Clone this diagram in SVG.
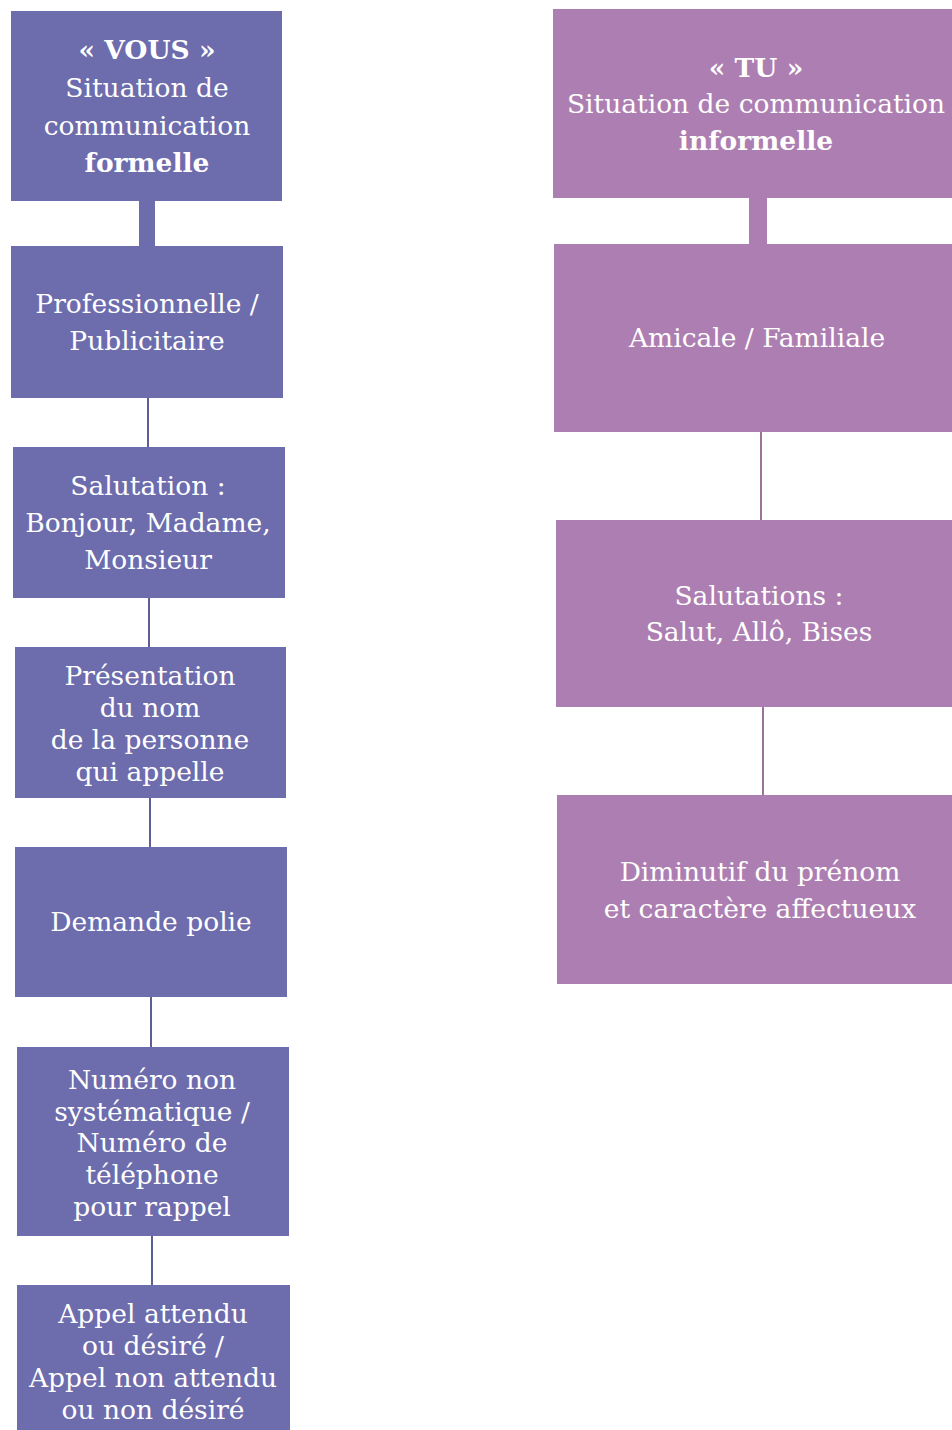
<svg xmlns="http://www.w3.org/2000/svg" width="952" height="1430" viewBox="0 0 952 1430">
<style>
.bg{fill:#ffffff}
.vous{fill:#6d6cad}
.tu{fill:#ad7eb1}
.t{font-family:"DejaVu Serif","Liberation Serif",serif;font-size:26.5px;fill:#ffffff;text-anchor:middle}
.b{font-weight:bold}
.cl{stroke:#5f5e94;stroke-width:2;fill:none}
.cr{stroke:#9a7399;stroke-width:2;fill:none}
</style>
<rect class="bg" x="0" y="0" width="952" height="1430"/>
<g id="connectors">
<rect x="139" y="199" width="16" height="49" fill="#6d6cad"/>
<line class="cl" x1="148" y1="397" x2="148" y2="448"/>
<line class="cl" x1="149" y1="597" x2="149" y2="648"/>
<line class="cl" x1="150" y1="797" x2="150" y2="848"/>
<line class="cl" x1="151" y1="996" x2="151" y2="1048"/>
<line class="cl" x1="152" y1="1235" x2="152" y2="1286"/>
<rect x="749" y="196" width="18" height="50" fill="#ad7eb1"/>
<line class="cr" x1="761" y1="431" x2="761" y2="521"/>
<line class="cr" x1="763" y1="706" x2="763" y2="796"/>
</g>
<g id="vous">
<rect class="vous" x="11" y="11" width="271" height="190"/>
<text class="t b" x="147" y="59">« VOUS »</text>
<text class="t" x="147" y="97">Situation de</text>
<text class="t" x="147" y="135">communication</text>
<text class="t b" x="147" y="172">formelle</text>
</g>
<g id="pro">
<rect class="vous" x="11" y="246" width="272" height="152"/>
<text class="t" x="147" y="313">Professionnelle /</text>
<text class="t" x="147" y="350">Publicitaire</text>
</g>
<g id="salutation">
<rect class="vous" x="13" y="447" width="272" height="151"/>
<text class="t" x="148" y="495">Salutation :</text>
<text class="t" x="148" y="532">Bonjour, Madame,</text>
<text class="t" x="148" y="569">Monsieur</text>
</g>
<g id="presentation">
<rect class="vous" x="15" y="647" width="271" height="151"/>
<text class="t" x="150" y="685">Présentation</text>
<text class="t" x="150" y="717">du nom</text>
<text class="t" x="150" y="749">de la personne</text>
<text class="t" x="150" y="781">qui appelle</text>
</g>
<g id="demande">
<rect class="vous" x="15" y="847" width="272" height="150"/>
<text class="t" x="151" y="931">Demande polie</text>
</g>
<g id="numero">
<rect class="vous" x="17" y="1047" width="272" height="189"/>
<text class="t" x="152" y="1089">Numéro non</text>
<text class="t" x="152" y="1121">systématique /</text>
<text class="t" x="152" y="1152">Numéro de</text>
<text class="t" x="152" y="1184">téléphone</text>
<text class="t" x="152" y="1216">pour rappel</text>
</g>
<g id="appel">
<rect class="vous" x="17" y="1285" width="273" height="150"/>
<text class="t" x="153" y="1323">Appel attendu</text>
<text class="t" x="153" y="1355">ou désiré /</text>
<text class="t" x="153" y="1387">Appel non attendu</text>
<text class="t" x="153" y="1419">ou non désiré</text>
</g>
<g id="tu">
<rect class="tu" x="553" y="9" width="410" height="189"/>
<text class="t b" x="756" y="77">« TU »</text>
<text class="t" x="756" y="113">Situation de communication</text>
<text class="t b" x="756" y="150">informelle</text>
</g>
<g id="amicale">
<rect class="tu" x="554" y="244" width="410" height="188"/>
<text class="t" x="757" y="347">Amicale / Familiale</text>
</g>
<g id="salutations">
<rect class="tu" x="556" y="520" width="410" height="187"/>
<text class="t" x="759" y="605">Salutations :</text>
<text class="t" x="759" y="641">Salut, Allô, Bises</text>
</g>
<g id="diminutif">
<rect class="tu" x="557" y="795" width="410" height="189"/>
<text class="t" x="760" y="881">Diminutif du prénom</text>
<text class="t" x="760" y="918">et caractère affectueux</text>
</g>
</svg>
